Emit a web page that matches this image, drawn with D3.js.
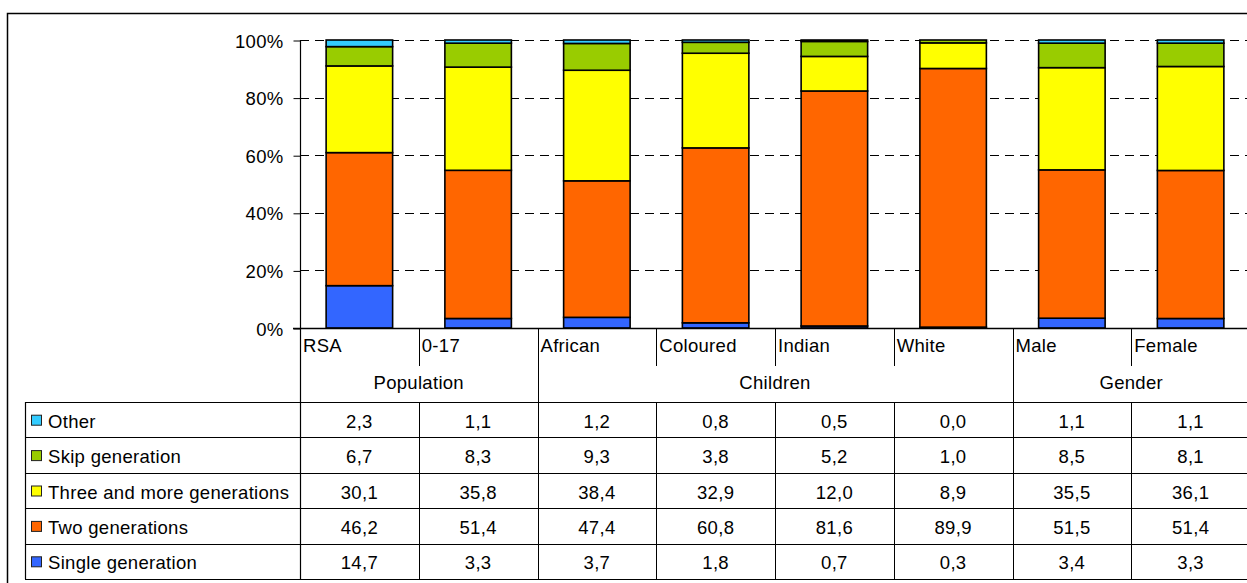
<!DOCTYPE html>
<html>
<head>
<meta charset="utf-8">
<script src="https://cdn.jsdelivr.net/npm/d3@7"></script>
<style>
  html, body { margin: 0; padding: 0; background: #fff; }
  svg { display: block; }
  text { font-family: "Liberation Sans", Arial, sans-serif; font-size: 18.5px; letter-spacing: 0.3px; fill: #000; }
</style>
</head>
<body>
<svg id="chart" width="1247" height="583"></svg>
<script>
// Household composition by generation type (%)
const categories = ["RSA", "0-17", "African", "Coloured", "Indian", "White", "Male", "Female"];
const groupNames = ["Population", "Children", "Gender"];
const groupSpans = [2, 4, 2];

const seriesNames = ["Single generation", "Two generations", "Three and more generations", "Skip generation", "Other"];
const seriesColors = ["#3366FF", "#FF6600", "#FFFF00", "#99CC00", "#33CCFF"];

const singleGeneration = [14.7, 3.3, 3.7, 1.8, 0.7, 0.3, 3.4, 3.3];
const twoGenerations   = [46.2, 51.4, 47.4, 60.8, 81.6, 89.9, 51.5, 51.4];
const threeGenerations = [30.1, 35.8, 38.4, 32.9, 12.0, 8.9, 35.5, 36.1];
const skipGeneration   = [6.7, 8.3, 9.3, 3.8, 5.2, 1.0, 8.5, 8.1];
const otherHousehold   = [2.3, 1.1, 1.2, 0.8, 0.5, 0.0, 1.1, 1.1];

const yTicks = [0, 0.2, 0.4, 0.6, 0.8, 1.0];

const seriesValues = [singleGeneration, twoGenerations, threeGenerations, skipGeneration, otherHousehold];

// rows for the stack
const rows = categories.map((c, i) => {
  const r = { category: c };
  seriesNames.forEach((s, k) => { r[s] = seriesValues[k][i]; });
  return r;
});

const svg = d3.select("#chart");

const plotLeft = 300, plotRight = 1250, plotTop = 40, plotBottom = 328;
const tableTop = 402, tableBottom = 579, tableLeft = 25;

const x = d3.scaleBand().domain(categories).range([plotLeft, plotRight]).padding(0);
const y = d3.scaleLinear().domain([0, 1]).range([plotBottom, plotTop]);
const barFrac = 0.56;

const stack = d3.stack().keys(seriesNames).offset(d3.stackOffsetExpand);
const stacked = stack(rows);

// outer frame
svg.append("path")
  .attr("d", `M7.5,583 V13.5 H1247`)
  .attr("fill", "none").attr("stroke", "#000").attr("stroke-width", 1.5);

// gridlines
svg.append("g").selectAll("line")
  .data(yTicks.filter(t => t > 0))
  .join("line")
  .attr("x1", plotLeft).attr("x2", plotRight)
  .attr("y1", d => Math.round(y(d)) + 0.5).attr("y2", d => Math.round(y(d)) + 0.5)
  .attr("stroke", "#000").attr("stroke-width", 1)
  .attr("stroke-dasharray", "9,6");

// y axis
const yAxis = d3.axisLeft(y).tickValues(yTicks).tickFormat(d3.format(".0%")).tickSize(7).tickPadding(10);
const yAxisG = svg.append("g").attr("transform", `translate(${plotLeft + 0.5},0.5)`).call(yAxis);
yAxisG.select(".domain").remove();
yAxisG.selectAll("line").attr("stroke", "#000");
yAxisG.selectAll("text").attr("font-size", null).attr("font-family", null).attr("fill", "#000").attr("dy", "0.36em");

// bars
const barsG = svg.append("g");
barsG.selectAll("g")
  .data(stacked)
  .join("g")
  .attr("fill", (d, i) => seriesColors[i])
  .selectAll("rect")
  .data(d => d.filter(p => p[1] - p[0] > 0))
  .join("rect")
  .attr("x", d => x(d.data.category) + x.bandwidth() * (1 - barFrac) / 2)
  .attr("width", x.bandwidth() * barFrac)
  .attr("y", d => y(d[1]))
  .attr("height", d => y(d[0]) - y(d[1]))
  .attr("stroke", "#000").attr("stroke-width", 1.6);

// axis lines
svg.append("line")
  .attr("x1", plotLeft + 0.5).attr("x2", plotLeft + 0.5)
  .attr("y1", plotTop).attr("y2", tableBottom)
  .attr("stroke", "#000").attr("stroke-width", 1.2);
svg.append("line")
  .attr("x1", plotLeft - 7).attr("x2", plotRight)
  .attr("y1", plotBottom + 0.5).attr("y2", plotBottom + 0.5)
  .attr("stroke", "#000").attr("stroke-width", 1.5);

// category labels
svg.append("g").selectAll("text")
  .data(categories)
  .join("text")
  .attr("x", d => x(d) + 3)
  .attr("y", 352)
  .text(d => d);

// group boundaries and labels
let start = 0;
const groups = groupNames.map((g, i) => {
  const g0 = start;
  start += groupSpans[i];
  return { name: g, first: g0, last: start - 1 };
});
const catLines = svg.append("g");
categories.forEach((c, i) => {
  if (i === 0) return;
  const isGroupEdge = groups.some(g => g.first === i);
  const xx = Math.round(x(c)) + 0.5;
  catLines.append("line")
    .attr("x1", xx).attr("x2", xx)
    .attr("y1", plotBottom).attr("y2", isGroupEdge ? tableBottom : 366)
    .attr("stroke", "#000").attr("stroke-width", 1);
  if (!isGroupEdge) {
    catLines.append("line")
      .attr("x1", xx).attr("x2", xx)
      .attr("y1", tableTop).attr("y2", tableBottom)
      .attr("stroke", "#000").attr("stroke-width", 1);
  }
});
svg.append("g").selectAll("text")
  .data(groups)
  .join("text")
  .attr("x", g => (x(categories[g.first]) + x(categories[g.last]) + x.bandwidth()) / 2)
  .attr("y", 389)
  .attr("text-anchor", "middle")
  .text(g => g.name);

// data table (top row = last series)
const tableSeries = seriesNames.map((s, i) => ({ name: s, color: seriesColors[i], values: seriesValues[i] })).reverse();
const rowScale = d3.scaleBand().domain(tableSeries.map(s => s.name)).range([tableTop, tableBottom]).padding(0);
const fmt = d3.formatLocale({ decimal: ",", thousands: " ", grouping: [3], currency: ["", ""] }).format(".1f");

const tableG = svg.append("g");
// horizontal rules
const rules = [tableTop, ...tableSeries.map(s => rowScale(s.name) + rowScale.bandwidth())];
tableG.selectAll("line.rule")
  .data(rules)
  .join("line")
  .attr("class", "rule")
  .attr("x1", tableLeft).attr("x2", plotRight)
  .attr("y1", d => Math.round(d) + 0.5).attr("y2", d => Math.round(d) + 0.5)
  .attr("stroke", "#000").attr("stroke-width", 1);
tableG.append("line")
  .attr("x1", tableLeft + 0.5).attr("x2", tableLeft + 0.5)
  .attr("y1", tableTop).attr("y2", tableBottom)
  .attr("stroke", "#000").attr("stroke-width", 1.2);

const rowG = tableG.selectAll("g.row")
  .data(tableSeries)
  .join("g")
  .attr("class", "row")
  .attr("transform", d => `translate(0,${rowScale(d.name) + rowScale.bandwidth() / 2 + 1})`);

rowG.append("rect")
  .attr("x", 31.5).attr("y", -5.5)
  .attr("width", 10).attr("height", 10)
  .attr("fill", d => d.color)
  .attr("stroke", "#222").attr("stroke-width", 1);
rowG.append("text")
  .attr("x", 48).attr("y", 7)
  .text(d => d.name);
rowG.selectAll("text.val")
  .data(d => d.values.map((v, i) => ({ v, c: categories[i] })))
  .join("text")
  .attr("class", "val")
  .attr("x", d => x(d.c) + x.bandwidth() / 2)
  .attr("y", 7)
  .attr("text-anchor", "middle")
  .text(d => fmt(d.v));
</script>
</body>
</html>
